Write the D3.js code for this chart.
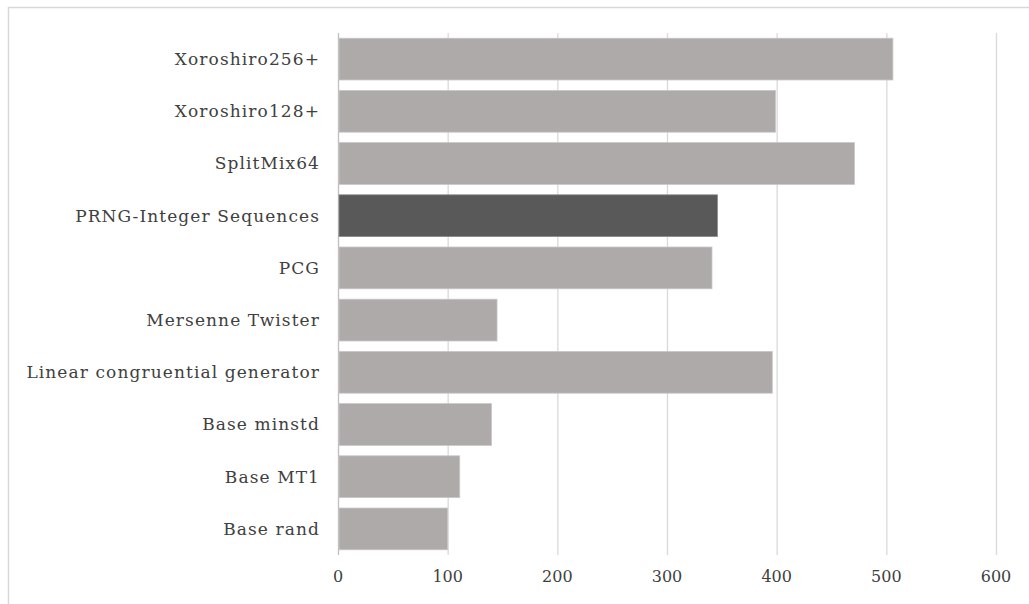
<!DOCTYPE html>
<html>
<head>
<meta charset="utf-8">
<script src="https://cdn.jsdelivr.net/npm/d3@7"></script>
<style>
  html, body { margin: 0; padding: 0; background: #fff; }
  svg { display: block; }
  text { font-family: "DejaVu Serif", "Liberation Serif", serif; }
</style>
</head>
<body>
<svg id="chart" width="1029" height="604"></svg>
<script>
const categories = ["Xoroshiro256+", "Xoroshiro128+", "SplitMix64", "PRNG-Integer Sequences", "PCG",
  "Mersenne Twister", "Linear congruential generator", "Base minstd", "Base MT1", "Base rand"];
const values = [506, 399, 471, 346, 341, 145, 396, 140, 111, 100];
const highlighted = ["PRNG-Integer Sequences"];
const xTicks = [0, 100, 200, 300, 400, 500, 600];

const svg = d3.select("#chart");
const W = 1029, H = 604;
const margin = { left: 338, right: 33, top: 33, bottom: 49 };

// outer chart border
svg.append("rect").attr("x", 8.5).attr("y", 7.5).attr("width", W + 10).attr("height", H + 10)
  .attr("fill", "none").attr("stroke", "#d9d9d9").attr("stroke-width", 1.5);

const x = d3.scaleLinear().domain([0, 600]).range([margin.left, W - margin.right]);
const y = d3.scaleBand().domain(categories).range([margin.top, H - margin.bottom]).paddingInner(0.2).paddingOuter(0.1);

// gridlines
svg.append("g").selectAll("line").data(xTicks).join("line")
  .attr("x1", d => x(d) + 0.5).attr("x2", d => x(d) + 0.5)
  .attr("y1", margin.top).attr("y2", H - margin.bottom)
  .attr("stroke", d => d === 0 ? "#bfbfbf" : "#d9d9d9").attr("stroke-width", 1.3);

// bars
svg.append("g").selectAll("rect").data(categories).join("rect")
  .attr("x", x(0) + 1)
  .attr("y", d => y(d))
  .attr("width", (d, i) => x(values[i]) - x(0) - 1)
  .attr("height", y.bandwidth())
  .attr("fill", d => highlighted.includes(d) ? "#595959" : "#aeaaaa")
  .attr("stroke", d => highlighted.includes(d) ? "#8a8a8a" : "#c9c6c6")
  .attr("stroke-width", 0.8);

// category labels
svg.append("g").selectAll("text").data(categories).join("text")
  .attr("x", 320)
  .attr("y", d => y(d) + y.bandwidth() / 2)
  .attr("dy", "0.35em")
  .attr("text-anchor", "end")
  .attr("font-size", 17)
  .attr("letter-spacing", 1.1)
  .attr("fill", "#404040")
  .text(d => d);

// x tick labels
svg.append("g").selectAll("text").data(xTicks).join("text")
  .attr("x", d => x(d))
  .attr("y", 576)
  .attr("dy", "0.35em")
  .attr("text-anchor", "middle")
  .attr("font-size", 16)
  .attr("fill", "#404040")
  .text(d => d);
</script>
</body>
</html>
